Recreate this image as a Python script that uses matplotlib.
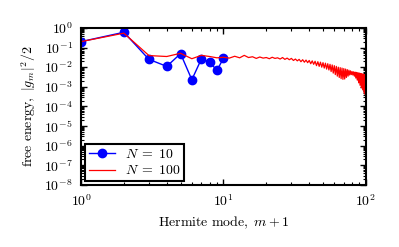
import numpy as np
import matplotlib
matplotlib.use("Agg")
import matplotlib.pyplot as plt
from matplotlib import ticker

plt.rcParams['mathtext.fontset'] = 'cm'
plt.rcParams['font.family'] = 'serif'
plt.rcParams['font.serif'] = ['DejaVu Serif']

# N = 10 run
m10 = np.arange(1, 11)
g10 = [0.2, 0.6, 0.025, 0.011, 0.049, 0.0023, 0.026, 0.018, 0.0069, 0.028]

# N = 100 run
m100 = np.arange(1, 101)
g100 = [0.2, 0.54, 0.039, 0.035, 0.051, 0.027, 0.040, 0.035, 0.030, 0.032,
        0.029, 0.036, 0.030, 0.040, 0.031, 0.034, 0.028, 0.033, 0.029, 0.031,
        0.027, 0.032, 0.028, 0.030, 0.026, 0.031, 0.025, 0.029, 0.024, 0.028,
        0.022, 0.026, 0.021, 0.025, 0.019, 0.024, 0.018, 0.023, 0.017, 0.022,
        0.015, 0.021, 0.014, 0.020, 0.012, 0.019, 0.011, 0.018, 0.010, 0.017,
        0.0090, 0.016, 0.0080, 0.015, 0.0072, 0.014, 0.0060, 0.013, 0.0050, 0.012,
        0.0042, 0.011, 0.0035, 0.010, 0.0030, 0.0095, 0.0026, 0.0090, 0.0024, 0.0085,
        0.0025, 0.0080, 0.0030, 0.0075, 0.0035, 0.0070, 0.0040, 0.0065, 0.0042, 0.0060,
        0.0040, 0.0058, 0.0035, 0.0056, 0.0028, 0.0054, 0.0022, 0.0052, 0.0016, 0.0050,
        0.0012, 0.0048, 0.0009, 0.0046, 0.0007, 0.0044, 0.0005, 0.0042, 0.0004, 0.0040]

fig = plt.figure(figsize=(3.99, 2.47), dpi=100)
ax = fig.add_axes([0.203, 0.251, 0.714, 0.636])

ax.plot(m10, g10, '-o', color='b', lw=1.0, ms=6, label=r'$N\;=\;10$')
ax.plot(m100, g100, '-', color='r', lw=0.9, label=r'$N\;=\;100$')

ax.set_xscale('log')
ax.set_yscale('log')
ax.set_xlim(1, 100)
ax.set_ylim(1e-8, 1)

fmt = ticker.FuncFormatter(lambda v, p: r'$10^{%d}$' % round(np.log10(v)))
ax.xaxis.set_major_formatter(fmt)
ax.yaxis.set_major_formatter(fmt)
ax.yaxis.set_major_locator(ticker.LogLocator(base=10, numticks=20))
ax.yaxis.set_minor_locator(ticker.LogLocator(base=10, subs=np.arange(2, 10), numticks=20))
ax.yaxis.set_minor_formatter(ticker.NullFormatter())
ax.xaxis.set_minor_formatter(ticker.NullFormatter())

ax.tick_params(which='both', direction='in', top=True, right=True, labelsize=10)
ax.tick_params(which='major', length=4, width=1, pad=6)
ax.tick_params(which='minor', length=2, width=0.8)
for s in ax.spines.values():
    s.set_linewidth(1.5)

ax.set_xlabel(r'$\mathrm{Hermite\ mode},\ m+1$', fontsize=10)
ax.set_ylabel(r'$\mathrm{free\ energy},\ |g_m|^2/2$', fontsize=10)

leg = ax.legend(loc='lower left', fontsize=10, fancybox=False, framealpha=1,
                handlelength=1.9, handletextpad=0.7, borderpad=0.25,
                labelspacing=0.15, borderaxespad=0.3)
leg.get_frame().set_edgecolor('k')
leg.get_frame().set_linewidth(1.5)

fig.savefig('out.png', dpi=100)
